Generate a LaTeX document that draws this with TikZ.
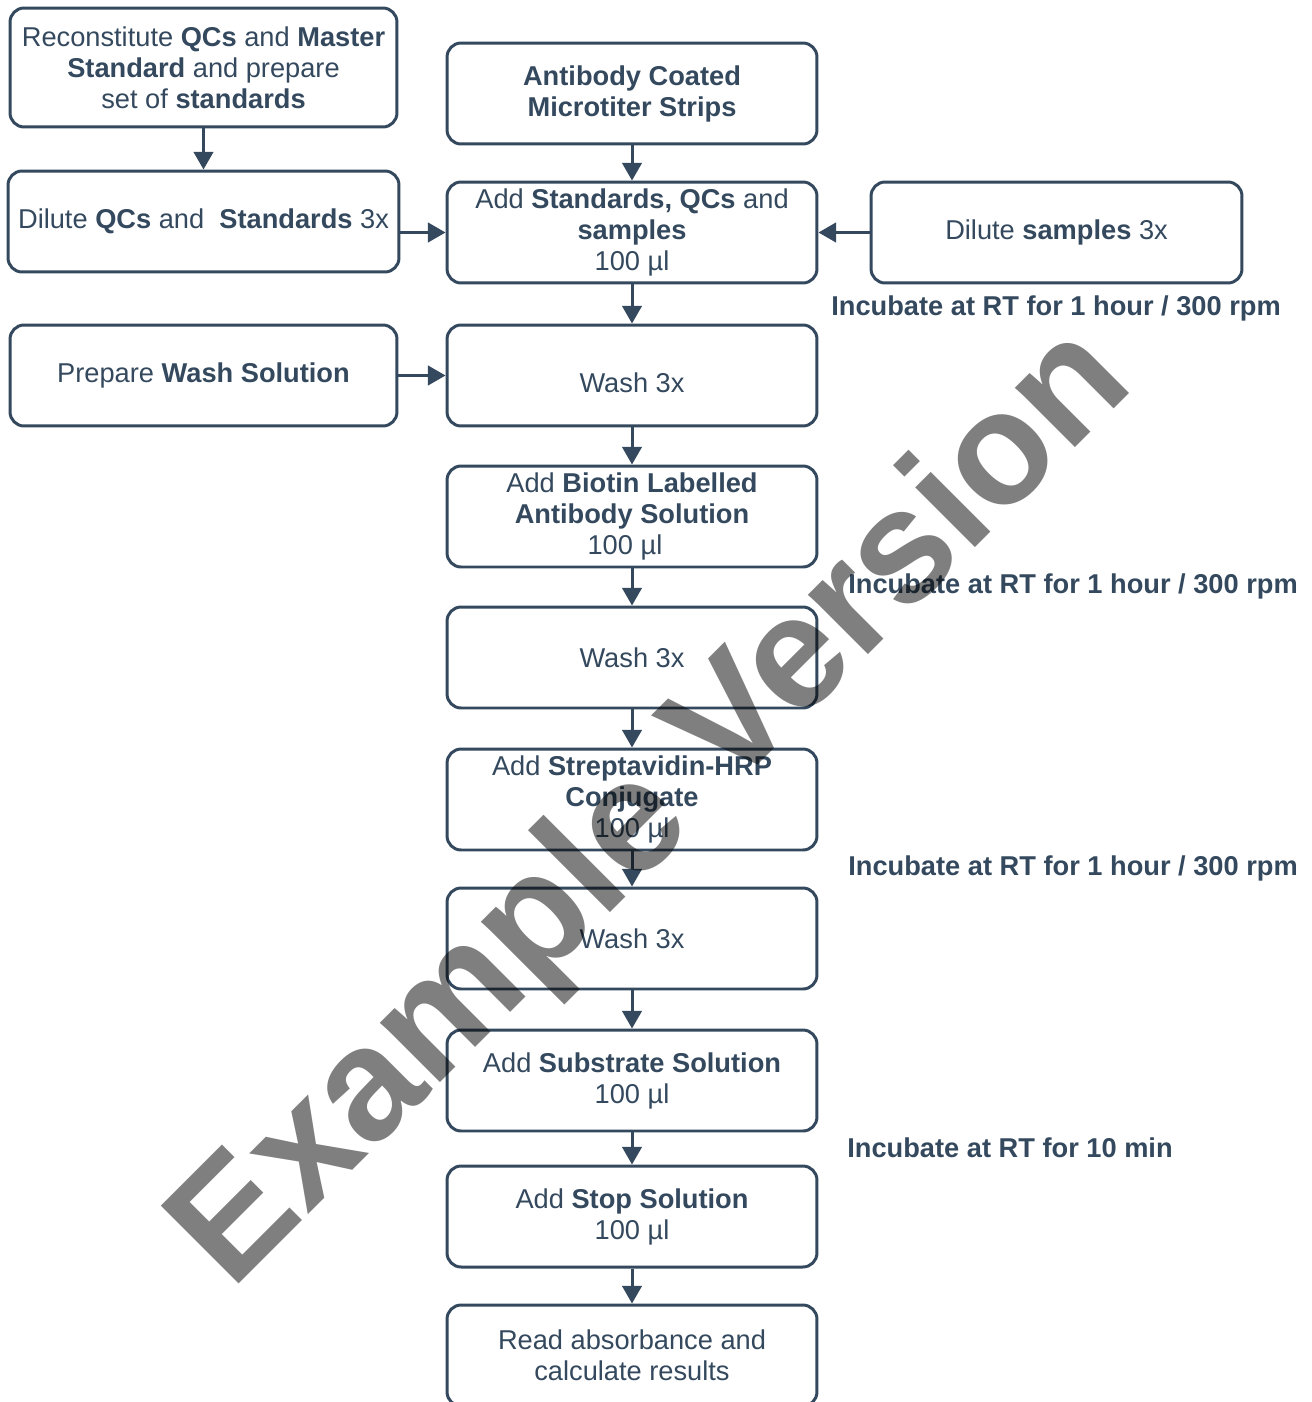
\documentclass[tikz,border=0pt]{standalone}
\usepackage{fontspec}
\setmainfont{Liberation Sans}
\usetikzlibrary{arrows.meta}
\definecolor{dk}{HTML}{34495E}
\begin{document}
\begin{tikzpicture}[x=0.02cm,y=-0.02cm,
 box/.style={draw=dk, line width=1.7pt, rounded corners=8pt, fill=white, text=dk, align=center,
   font=\fontsize{15.5}{17.6}\selectfont, inner sep=0pt, minimum width=7.4cm, minimum height=2.02cm},
 arr/.style={draw=dk, line width=1.7pt, -{Triangle[width=11pt,length=10pt]}},
 note/.style={text=dk, font=\fontsize{15.5}{17.6}\selectfont\bfseries, anchor=west, inner sep=0pt}]
\path[use as bounding box] (0,0) rectangle (1311,1402);
% left column
\node[box, minimum width=7.74cm, minimum height=2.38cm] (b1) at (203.5,67.5)
  {Reconstitute \textbf{QCs} and \textbf{Master}\\ \textbf{Standard} and prepare\\ set of \textbf{standards}};
\node[box, minimum width=7.82cm] (b3) at (203.5,221.5) {Dilute \textbf{QCs} and \ \textbf{Standards} 3x};
\node[box, minimum width=7.74cm] (b6) at (203.5,375.5) {Prepare \textbf{Wash Solution}};
% main column
\node[box] (b2) at (632,93.5) {\textbf{Antibody Coated}\\ \textbf{Microtiter Strips}};
\node[box] (b4) at (632,232.5) {Add \textbf{Standards, QCs} and\\ \textbf{samples}\\ 100 µl};
\node[box, minimum width=7.42cm] (b5) at (1056.5,232.5) {Dilute \textbf{samples} 3x};
\node[box] (b7) at (632,375.5) {\raisebox{-4pt}[\height][\depth]{Wash 3x}};
\node[box] (b8) at (632,516.5) {Add \textbf{Biotin Labelled}\\ \textbf{Antibody Solution}\\ 100 µl\hspace*{8pt}};
\node[box] (b9) at (632,657.5) {Wash 3x};
\node[box] (b10) at (632,799.5) {Add \textbf{Streptavidin-HRP}\\ \textbf{Conjugate}\\ 100 µl};
\node[box] (b11) at (632,938.5) {Wash 3x};
\node[box] (b12) at (632,1080.5) {Add \textbf{Substrate Solution}\\ 100 µl};
\node[box] (b13) at (632,1216.5) {Add \textbf{Stop Solution}\\ 100 µl};
\node[box] (b14) at (632,1355.5) {Read absorbance and\\ calculate results};
% arrows
\draw[arr] (b1) -- (b3);
\draw[arr] (b3.east |- b4.west) -- (b4.west);
\draw[arr] (b5.west) -- (b4.east);
\draw[arr] (b6.east) -- (b7.west);
\draw[arr] (b2) -- (b4);
\draw[arr] (b4) -- (b7);
\draw[arr] (b7) -- (b8);
\draw[arr] (b8) -- (b9);
\draw[arr] (b9) -- (b10);
\draw[arr] (b10) -- (b11);
\draw[arr] (b11) -- (b12);
\draw[arr] (b12) -- (b13);
\draw[arr] (b13) -- (b14);
% notes
\node[note] (n1) at (831,308) {Incubate at RT for 1 hour / 300 rpm};
\node[note] (n2) at (848,586) {Incubate at RT for 1 hour / 300 rpm};
\node[note] (n3) at (848,868) {Incubate at RT for 1 hour / 300 rpm};
\node[note] (n4) at (847,1148) {Incubate at RT for 10 min};
% watermark
\node[rotate=45, anchor=base west, inner sep=0pt, text=black, text opacity=0.5,
  font=\fontsize{91}{91}\selectfont\bfseries] (wm) at (231.5,1291.5) {Example Version};
\end{tikzpicture}
\end{document}
